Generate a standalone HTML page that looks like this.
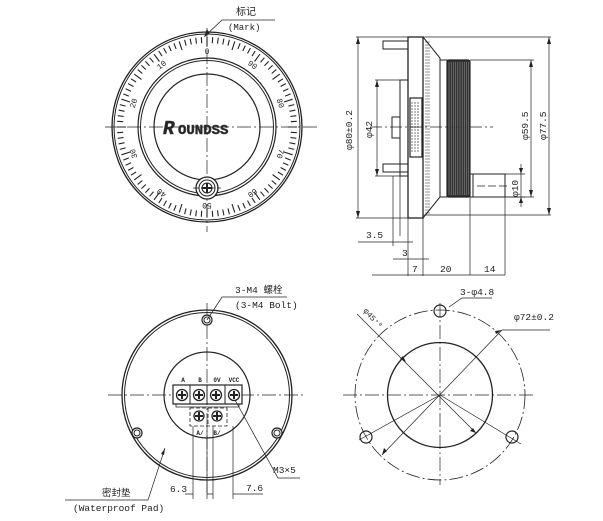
<!DOCTYPE html>
<html><head><meta charset="utf-8"><style>
html,body{margin:0;padding:0;background:#fff;}
svg{display:block;}
text{font-family:"Liberation Mono","Noto Sans CJK SC",monospace;fill:#222;}
</style></head><body>
<svg id="s" width="603" height="521" viewBox="0 0 603 521" xmlns="http://www.w3.org/2000/svg" stroke="#222" fill="none" stroke-width="1">
<!-- TOP LEFT DIAL -->
<g id="dial">
<circle cx="207" cy="127" r="95" stroke-width="1.3"/>
<circle cx="207" cy="127" r="93"/>
<circle cx="207" cy="127" r="69" stroke-width="1.2"/>
<circle cx="207" cy="127" r="66.5"/>
<circle cx="207" cy="127" r="53" stroke-width="1.2"/>
<line x1="105" y1="127" x2="318" y2="127" stroke-dasharray="14,3,2,3" stroke-width="0.7"/>
<line x1="207" y1="28" x2="207" y2="232" stroke-dasharray="14,3,2,3" stroke-width="0.7"/>
<circle cx="207" cy="188" r="11" stroke-width="1.3" fill="#fff"/>
<circle cx="207" cy="188" r="8"/>
<circle cx="207" cy="188" r="5"/>
<path d="M207 183v10M202 188h10" stroke-width="2"/>
<line x1="193" y1="188" x2="221" y2="188" stroke-dasharray="6,2" stroke-width="0.7"/>
<text x="163" y="134" font-family="Liberation Sans,sans-serif" font-size="19" font-style="italic" stroke="#444" stroke-width="0.6" fill="#fff" font-weight="bold">R</text>
<text x="178" y="134" font-family="Liberation Sans,sans-serif" font-size="14" stroke="#444" stroke-width="0.6" fill="#fff" font-weight="bold">OUNDSS</text>
<g stroke="none" font-size="8" text-anchor="middle">
<text transform="translate(207,54)">0</text>
<text transform="translate(163,67) rotate(-36)">10</text>
<text transform="translate(136,104) rotate(-72)">20</text>
<text transform="translate(136,153) rotate(-108)">30</text>
<text transform="translate(163,191) rotate(-144)">40</text>
<text transform="translate(207,203) rotate(180)">50</text>
<text transform="translate(251,191) rotate(144)">60</text>
<text transform="translate(278,153) rotate(108)">70</text>
<text transform="translate(278,104) rotate(72)">80</text>
<text transform="translate(251,67) rotate(36)">90</text>
</g>
</g>
<polyline points="205,36 222,20 275,20" stroke-width="0.8"/>
<path d="M205 36l2-6 2 3z" fill="#222"/>
<text x="236" y="15" font-size="10" stroke="none">标记</text>
<text x="228" y="30" font-size="9" stroke="none">(Mark)</text>

<!-- TOP RIGHT SIDE VIEW -->
<rect x="408" y="37" width="15" height="181" stroke-width="1.3"/>
<path d="M423 37 L440 58 L440 197 L423 218" stroke-width="1"/>
<rect x="410" y="98" width="12" height="59" stroke-width="1.2"/>
<path d="M412 102v50M415 102v50M418 102v50" stroke-width="0.6" stroke-dasharray="2,1"/>
<rect x="440" y="60" width="7" height="137"/>
<rect x="447" y="60" width="23" height="137" fill="#333" stroke-width="1.2" rx="2"/>
<rect x="473" y="174" width="32" height="23"/>
<rect x="470" y="174" width="3" height="23"/>
<rect x="400" y="80" width="8" height="96"/>
<rect x="392" y="117" width="8" height="21"/>
<rect x="383" y="41" width="25" height="8"/>
<rect x="383" y="164" width="25" height="8"/>
<line x1="370" y1="127" x2="493" y2="127" stroke-dasharray="12,3,2,3" stroke-width="0.7"/>
<line x1="477" y1="186" x2="510" y2="186" stroke-dasharray="8,3" stroke-width="0.7"/>
<g stroke-width="0.7">
<path d="M356 37h52M356 218h52M358 37v181"/>
<path d="M375 80h25M375 176h25M377 80v96"/>
<path d="M470 60h64M470 197h64M531 60v137"/>
<path d="M423 37h128M423 215h128M549 37v178"/>
<path d="M505 174h20M505 197h20M521 164v43"/>
<path d="M393 176v70M400 176v60M408 218v58M423 218v58M470 197v78M505 197v78"/>
<path d="M358 242h55M393 259h36M372 275h133"/>
</g>
<g fill="#222" stroke="none">
<path d="M358 37l-2 7h4zM358 218l-2-7h4zM377 80l-2 7h4zM377 176l-2-7h4zM531 60l-2 7h4zM531 197l-2-7h4zM549 37l-2 7h4zM549 215l-2-7h4z"/>
<path d="M521 174l-2-6h4zM521 197l-2 6h4z"/>
</g>
<g stroke="none" font-size="9.5">
<text transform="translate(352,150) rotate(-90)">φ80±0.2</text>
<text transform="translate(372,138) rotate(-90)">φ42</text>
<text transform="translate(528,140) rotate(-90)">φ59.5</text>
<text transform="translate(546,140) rotate(-90)">φ77.5</text>
<text transform="translate(518,197) rotate(-90)">φ10</text>
<text x="366" y="238">3.5</text>
<text x="402" y="256">3</text>
<text x="412" y="272">7</text>
<text x="440" y="272">20</text>
<text x="484" y="272">14</text>
</g>

<!-- BOTTOM LEFT -->
<circle cx="207" cy="395" r="85" stroke-width="1.3"/>
<circle cx="207" cy="395" r="82.5"/>
<circle cx="207" cy="395" r="43" stroke-width="1.2"/>
<line x1="108" y1="395" x2="306" y2="395" stroke-dasharray="14,3,2,3" stroke-width="0.7"/>
<line x1="207" y1="303" x2="207" y2="495" stroke-dasharray="14,3,2,3" stroke-width="0.7"/>
<circle cx="207" cy="320" r="5" fill="#fff" stroke-width="1.2"/><circle cx="207" cy="320" r="3"/>
<circle cx="137" cy="433" r="5" fill="#fff" stroke-width="1.2"/><circle cx="137" cy="433" r="3"/>
<circle cx="277" cy="433" r="5" fill="#fff" stroke-width="1.2"/><circle cx="277" cy="433" r="3"/>
<rect x="173" y="385" width="69" height="19" stroke-width="1.2" fill="#fff"/>
<path d="M190 385v19M207 385v19M225 385v19" stroke-width="1"/>
<path d="M176 404v3h63v-3" stroke-width="0.8"/>
<rect x="190" y="408" width="37" height="18" stroke-dasharray="4,2" stroke-width="0.8"/>
<path d="M208 408v18" stroke-dasharray="4,2" stroke-width="0.8"/>
<g stroke-width="1.3">
<circle cx="182" cy="395" r="5.5"/><circle cx="199" cy="395" r="5.5"/><circle cx="216" cy="395" r="5.5"/><circle cx="234" cy="395" r="5.5"/>
<circle cx="199" cy="416" r="5"/><circle cx="217" cy="416" r="5"/>
</g>
<path d="M182 391v8M178 395h8M199 391v8M195 395h8M216 391v8M212 395h8M234 391v8M230 395h8M199 412v8M195 416h8M217 412v8M213 416h8" stroke-width="2"/>
<g stroke="none" font-size="6" font-weight="bold" text-anchor="middle">
<text x="183" y="382">A</text><text x="200" y="382">B</text><text x="217" y="382">0V</text><text x="234" y="382">VCC</text>
<text x="200" y="435">A/</text><text x="217" y="435">B/</text>
</g>
<g stroke-width="0.7">
<polyline points="207,320 222,297 287,297"/>
<polyline points="235,400 278,478 300,478"/>
<polyline points="165,448 148,500 65,500"/>
<path d="M193 426v73M207 426v73M213 426v73M233 426v73"/>
<path d="M185 494h8M207 494h6M233 494h30"/>
</g>
<path d="M165 448l-1 7 -3-1z" fill="#222" stroke="none"/>
<g stroke="none" font-size="9.5">
<text x="235" y="293">3-M4 螺栓</text>
<text x="235" y="308">(3-M4 Bolt)</text>
<text x="273" y="473">M3×5</text>
<text x="170" y="492">6.3</text>
<text x="246" y="491">7.6</text>
<text x="102" y="496">密封垫</text>
<text x="73" y="511">(Waterproof Pad)</text>
</g>

<!-- BOTTOM RIGHT -->
<circle cx="440" cy="395" r="85" stroke-dasharray="14,3,2,3" stroke-width="0.8"/>
<circle cx="440" cy="395" r="52.5" stroke-width="1.3"/>
<line x1="343" y1="395" x2="533" y2="395" stroke-dasharray="14,3,2,3" stroke-width="0.7"/>
<line x1="440" y1="303" x2="440" y2="485" stroke-dasharray="14,3,2,3" stroke-width="0.7"/>
<circle cx="440" cy="311" r="6" stroke-width="1.2"/>
<circle cx="366" cy="437" r="6" stroke-width="1.2"/>
<circle cx="512" cy="437" r="6" stroke-width="1.2"/>
<g stroke-width="0.7">
<path d="M359 440L440 395L521 444"/>
<path d="M357 314L476 433"/>
<path d="M382 455L502 330L550 330"/>
<polyline points="449,307 462,298 492,298"/>
</g>
<g fill="#222" stroke="none">
<path d="M406 362l-6-3 3-3zM476 433l-6-2 3-3zM382 455l2-7 3 3zM502 330l-6 4 -1-3z"/>
</g>
<g stroke="none" font-size="9.5">
<text x="460" y="295">3-φ4.8</text>
<text x="514" y="320">φ72±0.2</text>
<text transform="translate(363,311) rotate(48)" font-size="8">φ45⁺⁰</text>
</g>
</svg>
<script>
var s=document.getElementById('dial'),ns="http://www.w3.org/2000/svg",d="";
for(var i=0;i<100;i++){var a=i*Math.PI/50,r1=(i%5==0)?81:84,r2=90;
d+="M"+(207+r1*Math.sin(a)).toFixed(1)+" "+(127-r1*Math.cos(a)).toFixed(1)+"L"+(207+r2*Math.sin(a)).toFixed(1)+" "+(127-r2*Math.cos(a)).toFixed(1);}
var p=document.createElementNS(ns,"path");p.setAttribute("d",d);p.setAttribute("stroke-width","1.1");s.appendChild(p);
var k="";for(var x=449;x<470;x+=2.2){k+="M"+x.toFixed(1)+" 62V195";}
var q=document.createElementNS(ns,"path");q.setAttribute("d",k);q.setAttribute("stroke","#888");q.setAttribute("stroke-width","0.6");
document.getElementById('s').appendChild(q);
var t="";for(var y=42;y<214;y+=3){t+="M425 "+y+"h5";}
var u=document.createElementNS(ns,"path");u.setAttribute("d",t);u.setAttribute("stroke-width","0.6");document.getElementById('s').appendChild(u);
</script>
</body></html>
